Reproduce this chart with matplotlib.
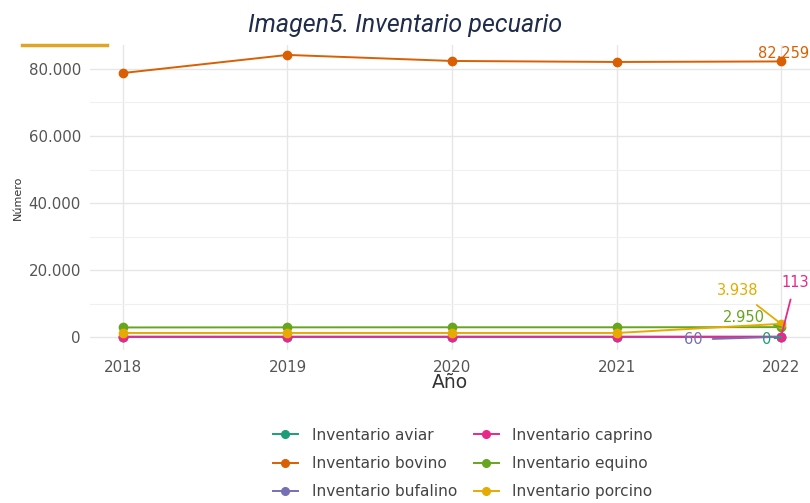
import matplotlib
matplotlib.use("Agg")
import matplotlib.pyplot as plt
from matplotlib.lines import Line2D
from matplotlib.ticker import FuncFormatter, MultipleLocator

years = [2018, 2019, 2020, 2021, 2022]
series_names = ["Inventario aviar", "Inventario bovino", "Inventario bufalino",
                "Inventario caprino", "Inventario equino", "Inventario porcino"]
aviar = [0, 0, 0, 0, 0]
bovino = [78800, 84200, 82400, 82100, 82259]
bufalino = [60, 60, 60, 60, 60]
caprino = [110, 110, 110, 110, 113]
equino = [2850, 2880, 2900, 2900, 2950]
porcino = [1200, 1200, 1200, 1200, 3938]
values = [aviar, bovino, bufalino, caprino, equino, porcino]
colors = ["#1b9e77", "#d95f02", "#7570b3", "#e7298a", "#66a61e", "#e6ab02"]
end_labels = ["0", "82,259", "60", "113", "2.950", "3.938"]

fig = plt.figure(figsize=(8.1, 5.03), dpi=100)
ax = fig.add_axes([90/810, 1-350/503, 720/810, 305/503])

for name, vals, c in zip(series_names, values, colors):
    ax.plot(years, vals, color=c, lw=1.4, marker="o", ms=6, zorder=3)

ax.set_xlim(2017.8, 2022.176)
ax.set_ylim(-3880, 87164)
ax.yaxis.set_major_locator(MultipleLocator(20000))
ax.yaxis.set_minor_locator(MultipleLocator(10000))
ax.yaxis.set_major_formatter(FuncFormatter(lambda v, p: f"{int(v):,}".replace(",", ".")))
ax.set_xticks(years)
ax.grid(True, which="major", color="#e6e6e6", lw=1)
ax.grid(True, which="minor", axis="y", color="#f0f0f0", lw=0.8)
for s in ax.spines.values():
    s.set_visible(False)
ax.tick_params(which="both", length=0, labelsize=10.8, colors="#555555", pad=6.5)
ax.tick_params(axis="x", pad=7)
ax.set_xlabel("Año", fontsize=13.5, color="#333333", labelpad=-1)
ax.set_ylabel("Número", fontsize=8, color="#333333", labelpad=4)

# end-point annotations (offsets in points)
ann = {
    5: (-31, 24),
    4: (-27, 7),
    3: (10, 39),
    2: (-63, -2),
    0: (-10, -2),
}
ax.annotate(end_labels[1], (years[-1], values[1][-1]), xytext=(1.5, 6), textcoords="offset points",
            ha="center", va="center", color=colors[1], fontsize=10.5)
for i, off in ann.items():
    y = values[i][-1]
    ax.annotate(end_labels[i], (years[-1], y), xytext=off, textcoords="offset points",
                ha="center", va="center", color=colors[i], fontsize=10.5,
                arrowprops=dict(arrowstyle="-", color=colors[i], lw=1.3, shrinkA=5, shrinkB=0))

# title and decoration
fig.text(0.5, 1-25/503, "Imagen5. Inventario pecuario", ha="center", va="center",
         fontsize=18, style="italic", color="#1f2d4a",
         family=["Liberation Sans Narrow", "Roboto", "DejaVu Sans"])
fig.add_artist(Line2D([22/810, 107/810], [1-45/503, 1-45/503], color="#e0a526", lw=2.5))

handles = [Line2D([], [], color=c, lw=1.4, marker="o", ms=5.5) for c in colors]
fig.legend(handles, series_names, ncol=2, loc="upper center", bbox_to_anchor=(463/810, 1-414/503),
           frameon=False, fontsize=11.1, labelcolor="#444444", columnspacing=1.1,
           handlelength=1.6, handletextpad=0.9, labelspacing=0.85)

fig.savefig("out.png", dpi=100)
